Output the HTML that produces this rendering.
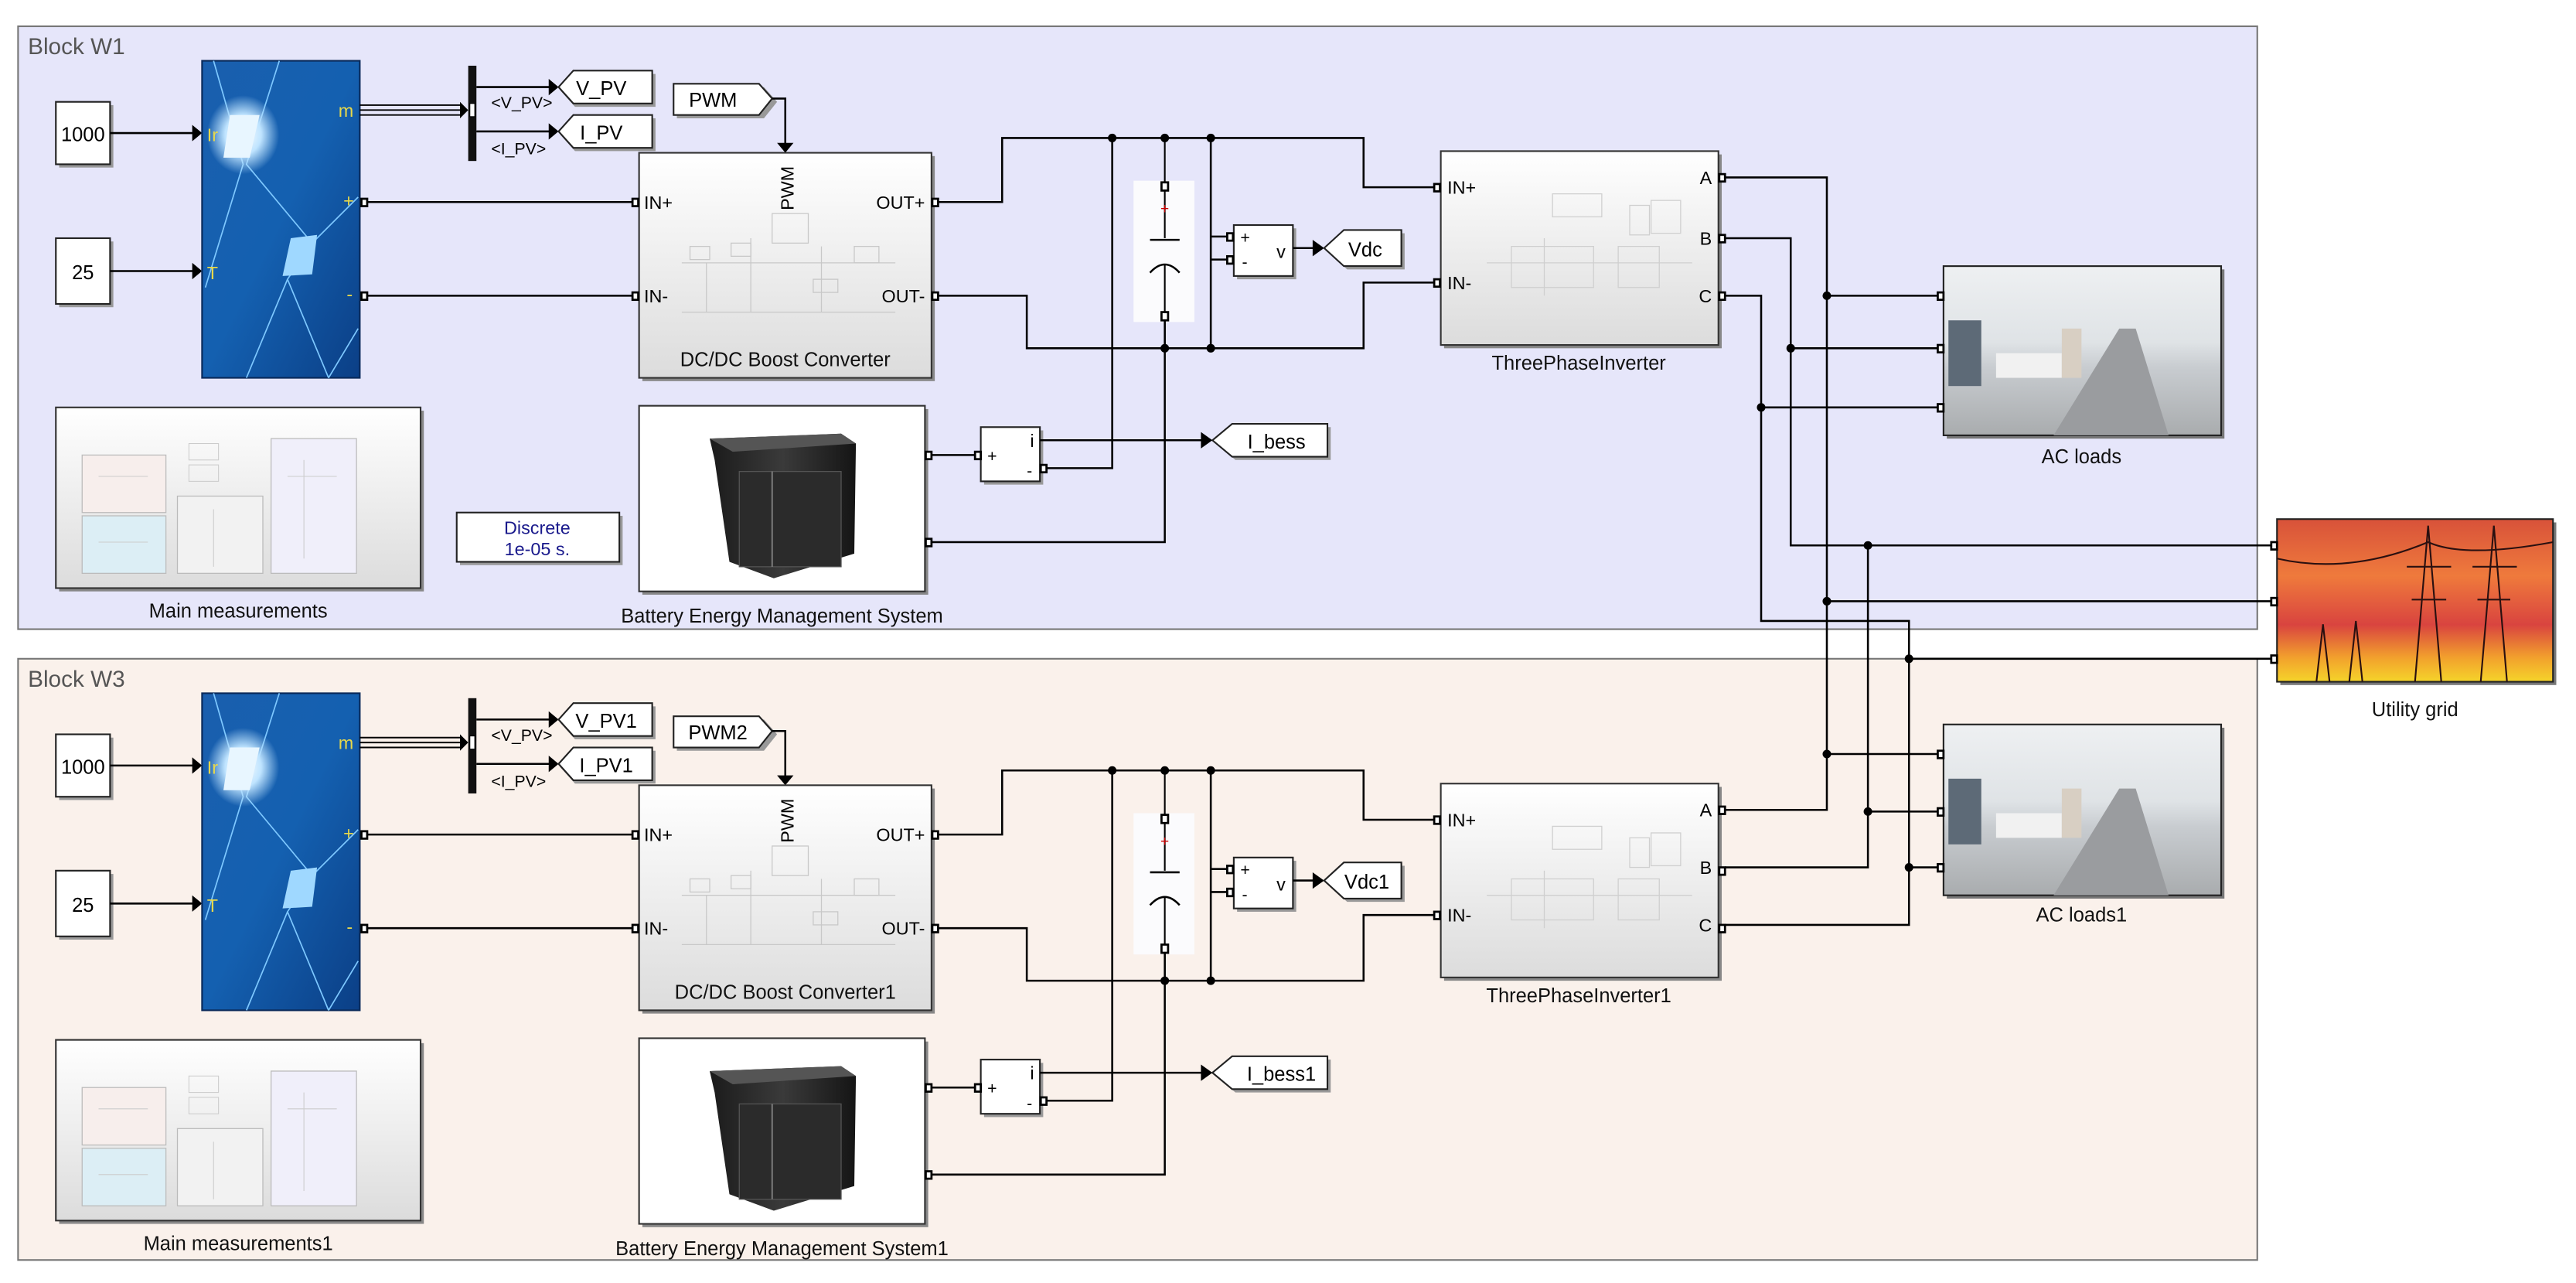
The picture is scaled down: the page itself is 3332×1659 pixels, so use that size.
<!DOCTYPE html>
<html><head><meta charset="utf-8"><style>
html,body{margin:0;padding:0;background:#fff;width:3332px;height:1659px;overflow:hidden}
svg{display:block}
text{font-family:"Liberation Sans",Arial,sans-serif}
</style></head><body>
<svg width="3332" height="1659" viewBox="0 0 1568 781" preserveAspectRatio="none" xmlns="http://www.w3.org/2000/svg">
<defs>
<linearGradient id="pv" x1="0" y1="0" x2="1" y2="1"><stop offset="0" stop-color="#1a5fae"/><stop offset="0.5" stop-color="#1460b0"/><stop offset="1" stop-color="#0b3f86"/></linearGradient>
<radialGradient id="glow" cx="0.5" cy="0.5" r="0.5"><stop offset="0" stop-color="#ffffff"/><stop offset="0.5" stop-color="#bfe4ff"/><stop offset="1" stop-color="#bfe4ff" stop-opacity="0"/></radialGradient>
<linearGradient id="blk" x1="0" y1="0" x2="0" y2="1"><stop offset="0" stop-color="#ffffff"/><stop offset="1" stop-color="#dcdcdc"/></linearGradient>
<linearGradient id="room" x1="0" y1="0" x2="0" y2="1"><stop offset="0" stop-color="#eef0f2"/><stop offset="0.45" stop-color="#dfe3e6"/><stop offset="0.6" stop-color="#c8ccd0"/><stop offset="1" stop-color="#a9acae"/></linearGradient>
<linearGradient id="sky" x1="0" y1="0" x2="0" y2="1"><stop offset="0" stop-color="#d8523a"/><stop offset="0.35" stop-color="#ef7a3c"/><stop offset="0.65" stop-color="#d9443f"/><stop offset="0.85" stop-color="#f2a02d"/><stop offset="1" stop-color="#f5d42a"/></linearGradient>
<linearGradient id="cab" x1="0" y1="0" x2="1" y2="0"><stop offset="0" stop-color="#1b1b1b"/><stop offset="0.5" stop-color="#3a3a3a"/><stop offset="1" stop-color="#151515"/></linearGradient>

<!-- common block content (no text) -->
<g id="common">
  <!-- constants -->
  <rect x="36" y="64" width="33" height="38" fill="#999"/>
  <rect x="34" y="62" width="33" height="38" fill="#fff" stroke="#222" stroke-width="1"/>
  <rect x="36" y="147" width="33" height="40" fill="#999"/>
  <rect x="34" y="145" width="33" height="40" fill="#fff" stroke="#222" stroke-width="1"/>
  <line x1="67" y1="81" x2="118" y2="81" stroke="#000" stroke-width="1.2"/>
  <polygon points="117,76 123,81 117,86" fill="#000"/>
  <line x1="67" y1="165" x2="118" y2="165" stroke="#000" stroke-width="1.2"/>
  <polygon points="117,160 123,165 117,170" fill="#000"/>
  <!-- PV panel -->
  <rect x="123" y="37" width="96" height="193" fill="url(#pv)" stroke="#0a2a5a" stroke-width="1"/>
  <path d="M130,37 L148,100 L125,175 M170,37 L150,100 L190,148 L218,120 M175,170 L150,230 M190,148 L175,170 L200,230 M218,200 L200,230" stroke="#7ec8ff" stroke-width="0.8" fill="none"/>
  <ellipse cx="148" cy="82" rx="22" ry="24" fill="url(#glow)"/>
  <polygon points="140,70 158,70 152,96 136,96" fill="#e8f6ff"/>
  <polygon points="177,145 193,143 190,167 172,168" fill="#9fd8ff"/>
  <!-- bus selector -->
  <line x1="219" y1="64" x2="281" y2="64" stroke="#000" stroke-width="0.9"/>
  <line x1="219" y1="67" x2="281" y2="67" stroke="#000" stroke-width="0.9"/>
  <line x1="219" y1="70" x2="281" y2="70" stroke="#000" stroke-width="0.9"/>
  <polygon points="280,62 285,67 280,72" fill="#000"/>
  <rect x="285" y="40" width="5" height="58" fill="#111"/>
  <rect x="286" y="63" width="3" height="8" fill="#fff" stroke="#000" stroke-width="0.5"/>
  <line x1="290" y1="53" x2="335" y2="53" stroke="#000" stroke-width="1.2"/>
  <polygon points="334,48 340,53 334,58" fill="#000"/>
  <line x1="290" y1="80" x2="335" y2="80" stroke="#000" stroke-width="1.2"/>
  <polygon points="334,75 340,80 334,85" fill="#000"/>
  <!-- tags shadows -->
  <polygon points="341,55 350,45 399,45 399,65 350,65" fill="#999"/>
  <polygon points="340,53 349,43 397,43 397,63 349,63" fill="#fff" stroke="#222" stroke-width="1"/>
  <polygon points="341,82 350,72 399,72 399,92 350,92" fill="#999"/>
  <polygon points="340,80 349,70 397,70 397,90 349,90" fill="#fff" stroke="#222" stroke-width="1"/>
  <polygon points="412,53 465,53 473,62 465,72 412,72" fill="#999"/>
  <polygon points="410,51 462,51 470,60 462,70 410,70" fill="#fff" stroke="#222" stroke-width="1"/>
  <polyline points="470,60 478,60 478,88" fill="none" stroke="#000" stroke-width="1.2"/>
  <polygon points="473,87 478,93 483,87" fill="#000"/>
  <!-- DC/DC -->
  <rect x="391" y="95" width="178" height="137" fill="#888"/>
  <rect x="389" y="93" width="178" height="137" fill="url(#blk)" stroke="#333" stroke-width="1"/>
  <g stroke="#c8c8c8" stroke-width="0.6" fill="none">
    <rect x="470" y="130" width="22" height="18"/><rect x="420" y="150" width="12" height="8"/><rect x="445" y="148" width="12" height="8"/>
    <line x1="415" y1="160" x2="545" y2="160"/><line x1="415" y1="190" x2="545" y2="190"/>
    <line x1="430" y1="160" x2="430" y2="190"/><line x1="457" y1="145" x2="457" y2="190"/><line x1="500" y1="150" x2="500" y2="190"/>
    <rect x="495" y="170" width="15" height="8"/><rect x="520" y="150" width="15" height="10"/>
  </g>
  <!-- capacitor -->
  <rect x="690" y="110" width="37" height="86" fill="#fbfbfd"/>
  <line x1="709" y1="84" x2="709" y2="145" stroke="#000" stroke-width="1"/>
  <line x1="700" y1="146" x2="718" y2="146" stroke="#000" stroke-width="1.2"/>
  <path d="M700,166 Q709,156 718,166" fill="none" stroke="#000" stroke-width="1.2"/>
  <line x1="709" y1="161" x2="709" y2="212" stroke="#000" stroke-width="1"/>
  <text x="709" y="130" font-size="9" fill="#c00" text-anchor="middle">+</text>
  <!-- V meas -->
  <rect x="753" y="139" width="36" height="31" fill="#999"/>
  <rect x="751" y="137" width="36" height="31" fill="#fff" stroke="#222" stroke-width="1"/>
  <line x1="787" y1="151" x2="800" y2="151" stroke="#000" stroke-width="1.2"/>
  <polygon points="799,146 806,151 799,156" fill="#000"/>
  <polygon points="808,153 820,142 855,142 855,164 820,164" fill="#999"/>
  <polygon points="806,151 818,140 853,140 853,162 818,162" fill="#fff" stroke="#222" stroke-width="1"/>
  <!-- Inverter -->
  <rect x="879" y="94" width="169" height="118" fill="#888"/>
  <rect x="877" y="92" width="169" height="118" fill="url(#blk)" stroke="#333" stroke-width="1"/>
  <g stroke="#cfcfcf" stroke-width="0.6" fill="none">
    <rect x="945" y="118" width="30" height="14"/><rect x="992" y="125" width="12" height="18"/><rect x="1005" y="122" width="18" height="20"/>
    <rect x="920" y="150" width="50" height="25"/><rect x="985" y="150" width="25" height="25"/>
    <line x1="905" y1="160" x2="1030" y2="160"/><line x1="940" y1="145" x2="940" y2="180"/>
  </g>
  <!-- Main measurements -->
  <rect x="36" y="250" width="222" height="110" fill="#888"/>
  <rect x="34" y="248" width="222" height="110" fill="url(#blk)" stroke="#333" stroke-width="1"/>
  <rect x="50" y="277" width="51" height="35" fill="#f7eeec" stroke="#bbb" stroke-width="0.6"/>
  <rect x="50" y="314" width="51" height="35" fill="#dceef5" stroke="#bbb" stroke-width="0.6"/>
  <rect x="108" y="302" width="52" height="47" fill="#f2f2f2" stroke="#bbb" stroke-width="0.6"/>
  <rect x="165" y="267" width="52" height="82" fill="#f0effa" stroke="#bbb" stroke-width="0.6"/>
  <g stroke="#ccc" stroke-width="0.5" fill="none"><rect x="115" y="270" width="18" height="10"/><rect x="115" y="283" width="18" height="10"/><line x1="60" y1="290" x2="90" y2="290"/><line x1="60" y1="330" x2="90" y2="330"/><line x1="175" y1="290" x2="205" y2="290"/><line x1="185" y1="280" x2="185" y2="340"/><line x1="130" y1="310" x2="130" y2="345"/></g>
  <!-- Battery -->
  <rect x="391" y="249" width="174" height="113" fill="#888"/>
  <rect x="389" y="247" width="174" height="113" fill="#fff" stroke="#333" stroke-width="1"/>
  <polygon points="432,267 512,264 521,270 520,337 471,352 444,342 435,280" fill="url(#cab)"/>
  <polygon points="432,267 512,264 521,270 446,275" fill="#555"/>
  <rect x="450" y="287" width="62" height="58" fill="#2b2b2b" stroke="#555" stroke-width="0.6"/>
  <line x1="470" y1="287" x2="470" y2="345" stroke="#888" stroke-width="0.8"/>
  <!-- I meas -->
  <rect x="599" y="262" width="36" height="33" fill="#999"/>
  <rect x="597" y="260" width="36" height="33" fill="#fff" stroke="#222" stroke-width="1"/>
  <polygon points="740,270 752,260 810,260 810,280 752,280" fill="#999"/>
  <polygon points="738,268 750,258 808,258 808,278 750,278" fill="#fff" stroke="#222" stroke-width="1"/>
  <!-- wires -->
  <g fill="none" stroke="#000" stroke-width="1.2">
    <line x1="221" y1="123" x2="386" y2="123"/>
    <line x1="221" y1="180" x2="386" y2="180"/>
    <polyline points="570,123 610,123 610,84 830,84 830,114 874,114"/>
    <polyline points="570,180 625,180 625,212 830,212 830,172 874,172"/>
    <polyline points="677,84 677,285 636,285"/>
    <polyline points="709,195 709,330 566,330"/>
    <polyline points="737,84 737,212"/>
    <line x1="737" y1="144" x2="749" y2="144"/>
    <line x1="737" y1="158" x2="749" y2="158"/>
    <line x1="566" y1="277" x2="595" y2="277"/>
    <line x1="633" y1="268" x2="732" y2="268"/>
  </g>
  <polygon points="731,263 738,268 731,273" fill="#000"/>
  <g fill="#000"><circle cx="677" cy="84" r="2.6"/><circle cx="709" cy="84" r="2.6"/><circle cx="737" cy="84" r="2.6"/><circle cx="709" cy="212" r="2.6"/><circle cx="737" cy="212" r="2.6"/></g>
  <!-- ports -->
  <g fill="#fff" stroke="#000" stroke-width="1.3">
    <rect x="220" y="121" width="3.5" height="4.5"/><rect x="220" y="178" width="3.5" height="4.5"/>
    <rect x="385" y="121" width="3.5" height="4.5"/><rect x="385" y="178" width="3.5" height="4.5"/>
    <rect x="567.5" y="121" width="3.5" height="4.5"/><rect x="567.5" y="178" width="3.5" height="4.5"/>
    <rect x="707" y="111" width="4" height="5"/><rect x="707" y="190" width="4" height="5"/>
    <rect x="747" y="142" width="3.5" height="4.5"/><rect x="747" y="156" width="3.5" height="4.5"/>
    <rect x="873" y="112" width="3.5" height="4.5"/><rect x="873" y="170" width="3.5" height="4.5"/>
    <rect x="1046.5" y="106" width="3.5" height="4.5"/><rect x="1046.5" y="143" width="3.5" height="4.5"/><rect x="1046.5" y="178" width="3.5" height="4.5"/>
    <rect x="563.5" y="275" width="3.5" height="4.5"/><rect x="563.5" y="328" width="3.5" height="4.5"/>
    <rect x="593.5" y="275" width="3.5" height="4.5"/><rect x="633.5" y="283" width="3.5" height="4.5"/>
  </g>
</g>
</defs>

<!-- frames -->
<rect x="11" y="16" width="1363" height="367" fill="#e6e6fa" stroke="#777" stroke-width="1"/>
<rect x="11" y="401" width="1363" height="366" fill="#faf1eb" stroke="#777" stroke-width="1"/>
<text x="17" y="33" font-size="14" fill="#555">Block W1</text>
<text x="17" y="418" font-size="14" fill="#555">Block W3</text>

<use href="#common"/>
<use href="#common" transform="translate(0,385)"/>

<!-- Discrete -->
<rect x="280" y="314" width="99" height="30" fill="#999"/>
<rect x="278" y="312" width="99" height="30" fill="#fff" stroke="#222" stroke-width="1"/>
<text x="327" y="325" font-size="11" fill="#1a1a8c" text-anchor="middle">Discrete</text>
<text x="327" y="338" font-size="11" fill="#1a1a8c" text-anchor="middle">1e-05 s.</text>

<!-- right-side loads and grid -->
<g>
  <rect x="1185" y="164" width="169" height="103" fill="#777"/>
  <rect x="1183" y="162" width="169" height="103" fill="url(#room)" stroke="#222" stroke-width="1"/>
  <rect x="1186" y="195" width="20" height="40" fill="#5d6a77"/><polygon points="1250,265 1290,200 1300,200 1320,265" fill="#9a9c9f"/>
  <rect x="1215" y="215" width="40" height="15" fill="#f1f1f1"/><rect x="1255" y="200" width="12" height="30" fill="#d8cfc3"/>
  <rect x="1185" y="443" width="169" height="104" fill="#777"/>
  <rect x="1183" y="441" width="169" height="104" fill="url(#room)" stroke="#222" stroke-width="1"/>
  <rect x="1186" y="474" width="20" height="40" fill="#5d6a77"/><polygon points="1250,545 1290,480 1300,480 1320,545" fill="#9a9c9f"/>
  <rect x="1215" y="495" width="40" height="15" fill="#f1f1f1"/><rect x="1255" y="480" width="12" height="30" fill="#d8cfc3"/>
  <rect x="1388" y="318" width="168" height="99" fill="#777"/>
  <rect x="1386" y="316" width="168" height="99" fill="url(#sky)" stroke="#222" stroke-width="1"/>
  <g stroke="#2a1010" stroke-width="1" fill="none">
    <path d="M1470,415 L1478,320 L1486,415 M1465,345 L1492,345 M1468,365 L1489,365"/>
    <path d="M1510,415 L1518,320 L1526,415 M1505,345 L1532,345 M1508,365 L1528,365"/>
    <path d="M1410,415 L1414,380 L1418,415 M1430,415 L1434,378 L1438,415"/>
    <path d="M1386,340 Q1430,350 1478,330 Q1500,340 1554,330"/>
  </g>
</g>

<g fill="none" stroke="#000" stroke-width="1.2">
  <polyline points="1050,108 1112,108 1112,493 1050,493"/>
  <polyline points="1050,145 1090,145 1090,332 1383,332"/>
  <polyline points="1050,180 1072,180 1072,378 1162,378 1162,563 1050,563"/>
  <polyline points="1050,528 1137,528 1137,332"/>
  <line x1="1112" y1="180" x2="1180" y2="180"/>
  <line x1="1090" y1="212" x2="1180" y2="212"/>
  <line x1="1072" y1="248" x2="1180" y2="248"/>
  <line x1="1112" y1="366" x2="1383" y2="366"/>
  <line x1="1162" y1="401" x2="1383" y2="401"/>
  <line x1="1112" y1="459" x2="1180" y2="459"/>
  <line x1="1137" y1="494" x2="1180" y2="494"/>
  <line x1="1162" y1="528" x2="1180" y2="528"/>
</g>
<g fill="#000">
  <circle cx="1112" cy="180" r="2.6"/><circle cx="1090" cy="212" r="2.6"/><circle cx="1072" cy="248" r="2.6"/>
  <circle cx="1137" cy="332" r="2.6"/><circle cx="1112" cy="366" r="2.6"/><circle cx="1162" cy="401" r="2.6"/>
  <circle cx="1112" cy="459" r="2.6"/><circle cx="1137" cy="494" r="2.6"/><circle cx="1162" cy="528" r="2.6"/>
</g>
<g fill="#fff" stroke="#000" stroke-width="1.3">
  <rect x="1179.5" y="178" width="3.5" height="4.5"/><rect x="1179.5" y="210" width="3.5" height="4.5"/><rect x="1179.5" y="246" width="3.5" height="4.5"/>
  <rect x="1179.5" y="457" width="3.5" height="4.5"/><rect x="1179.5" y="492" width="3.5" height="4.5"/><rect x="1179.5" y="526" width="3.5" height="4.5"/>
  <rect x="1382.5" y="330" width="3.5" height="4.5"/><rect x="1382.5" y="364" width="3.5" height="4.5"/><rect x="1382.5" y="399" width="3.5" height="4.5"/>
</g>

<!-- texts top block -->
<g font-size="12" fill="#000">
  <text x="50.5" y="86" text-anchor="middle">1000</text>
  <text x="50.5" y="170" text-anchor="middle">25</text>
  <text x="50.5" y="471" text-anchor="middle">1000</text>
  <text x="50.5" y="555" text-anchor="middle">25</text>
  <text x="366" y="58" text-anchor="middle">V_PV</text>
  <text x="366" y="85" text-anchor="middle">I_PV</text>
  <text x="369" y="443" text-anchor="middle">V_PV1</text>
  <text x="369" y="470" text-anchor="middle">I_PV1</text>
  <text x="434" y="65" text-anchor="middle">PWM</text>
  <text x="437" y="450" text-anchor="middle">PWM2</text>
  <text x="831" y="156" text-anchor="middle">Vdc</text>
  <text x="832" y="541" text-anchor="middle">Vdc1</text>
  <text x="777" y="273" text-anchor="middle">I_bess</text>
  <text x="780" y="658" text-anchor="middle">I_bess1</text>
</g>
<g font-size="10" fill="#000">
  <text x="299" y="66">&lt;V_PV&gt;</text><text x="299" y="94">&lt;I_PV&gt;</text>
  <text x="299" y="451">&lt;V_PV&gt;</text><text x="299" y="479">&lt;I_PV&gt;</text>
</g>
<g font-size="11" fill="#e8d84a">
  <text x="126" y="86">Ir</text><text x="126" y="170">T</text><text x="206" y="71">m</text><text x="209" y="126">+</text><text x="211" y="183">-</text>
  <text x="126" y="471">Ir</text><text x="126" y="555">T</text><text x="206" y="456">m</text><text x="209" y="511">+</text><text x="211" y="568">-</text>
</g>
<g font-size="11" fill="#000">
  <text x="392" y="127">IN+</text><text x="392" y="184">IN-</text><text x="563" y="127" text-anchor="end">OUT+</text><text x="563" y="184" text-anchor="end">OUT-</text>
  <text x="392" y="512">IN+</text><text x="392" y="569">IN-</text><text x="563" y="512" text-anchor="end">OUT+</text><text x="563" y="569" text-anchor="end">OUT-</text>
  <text transform="translate(483,128) rotate(-90)">PWM</text>
  <text transform="translate(483,513) rotate(-90)">PWM</text>
  <text x="881" y="118">IN+</text><text x="881" y="176">IN-</text>
  <text x="1042" y="112" text-anchor="end">A</text><text x="1042" y="149" text-anchor="end">B</text><text x="1042" y="184" text-anchor="end">C</text>
  <text x="881" y="503">IN+</text><text x="881" y="561">IN-</text>
  <text x="1042" y="497" text-anchor="end">A</text><text x="1042" y="532" text-anchor="end">B</text><text x="1042" y="567" text-anchor="end">C</text>
  <text x="755" y="148" font-size="10">+</text><text x="756" y="163" font-size="10">-</text><text x="777" y="157">v</text>
  <text x="755" y="533" font-size="10">+</text><text x="756" y="548" font-size="10">-</text><text x="777" y="542">v</text>
  <text x="601" y="281" font-size="10">+</text><text x="627" y="272">i</text><text x="625" y="290" font-size="10">-</text>
  <text x="601" y="666" font-size="10">+</text><text x="627" y="657">i</text><text x="625" y="675" font-size="10">-</text>
</g>
<g font-size="12" fill="#111" text-anchor="middle">
  <text x="478" y="223">DC/DC Boost Converter</text>
  <text x="478" y="608">DC/DC Boost Converter1</text>
  <text x="961" y="225">ThreePhaseInverter</text>
  <text x="961" y="610">ThreePhaseInverter1</text>
  <text x="145" y="376">Main measurements</text>
  <text x="145" y="761">Main measurements1</text>
  <text x="476" y="379">Battery Energy Management System</text>
  <text x="476" y="764">Battery Energy Management System1</text>
  <text x="1267" y="282">AC loads</text>
  <text x="1267" y="561">AC loads1</text>
  <text x="1470" y="436">Utility grid</text>
</g>
</svg>
</body></html>
